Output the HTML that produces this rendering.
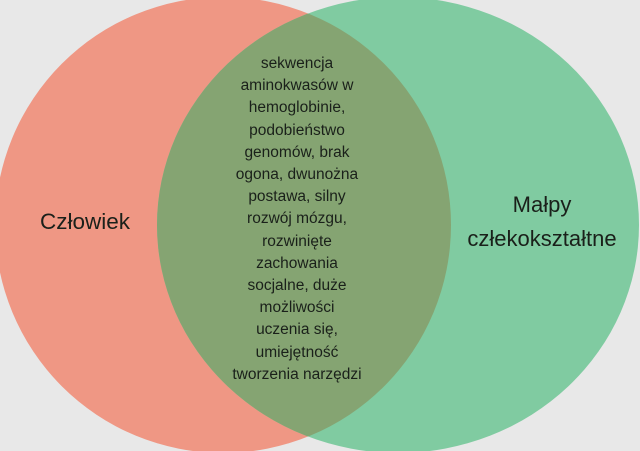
<!DOCTYPE html>
<html><head><style>
body{margin:0;width:640px;height:451px;overflow:hidden;background:#e8e8e8;}
svg{display:block}
text{font-family:"Liberation Sans",sans-serif;fill:#1a201a}
</style></head><body>
<svg width="640" height="451" viewBox="0 0 640 451">
<defs><clipPath id="c"><circle cx="223" cy="225" r="228"/></clipPath></defs>
<rect width="640" height="451" fill="#e8e8e8"/>
<circle cx="223" cy="225" r="228" fill="#ef9784"/>
<ellipse cx="398" cy="225" rx="241" ry="228" fill="#80cba1"/>
<ellipse cx="398" cy="225" rx="241" ry="228" fill="#85a472" clip-path="url(#c)"/>
<text x="85" y="229" font-size="22.5" text-anchor="middle">Człowiek</text>
<text x="542" y="212" font-size="22" text-anchor="middle">Małpy</text>
<text x="542" y="246" font-size="22" text-anchor="middle">człekokształtne</text>
<g font-size="15.5" text-anchor="middle">
<text x="297" y="68">sekwencja</text>
<text x="297" y="90">aminokwasów w</text>
<text x="297" y="112">hemoglobinie,</text>
<text x="297" y="135">podobieństwo</text>
<text x="297" y="157">genomów, brak</text>
<text x="297" y="179">ogona, dwunożna</text>
<text x="297" y="201">postawa, silny</text>
<text x="297" y="223">rozwój mózgu,</text>
<text x="297" y="246">rozwinięte</text>
<text x="297" y="268">zachowania</text>
<text x="297" y="290">socjalne, duże</text>
<text x="297" y="312">możliwości</text>
<text x="297" y="334">uczenia się,</text>
<text x="297" y="357">umiejętność</text>
<text x="297" y="379">tworzenia narzędzi</text>
</g>
</svg>
</body></html>
